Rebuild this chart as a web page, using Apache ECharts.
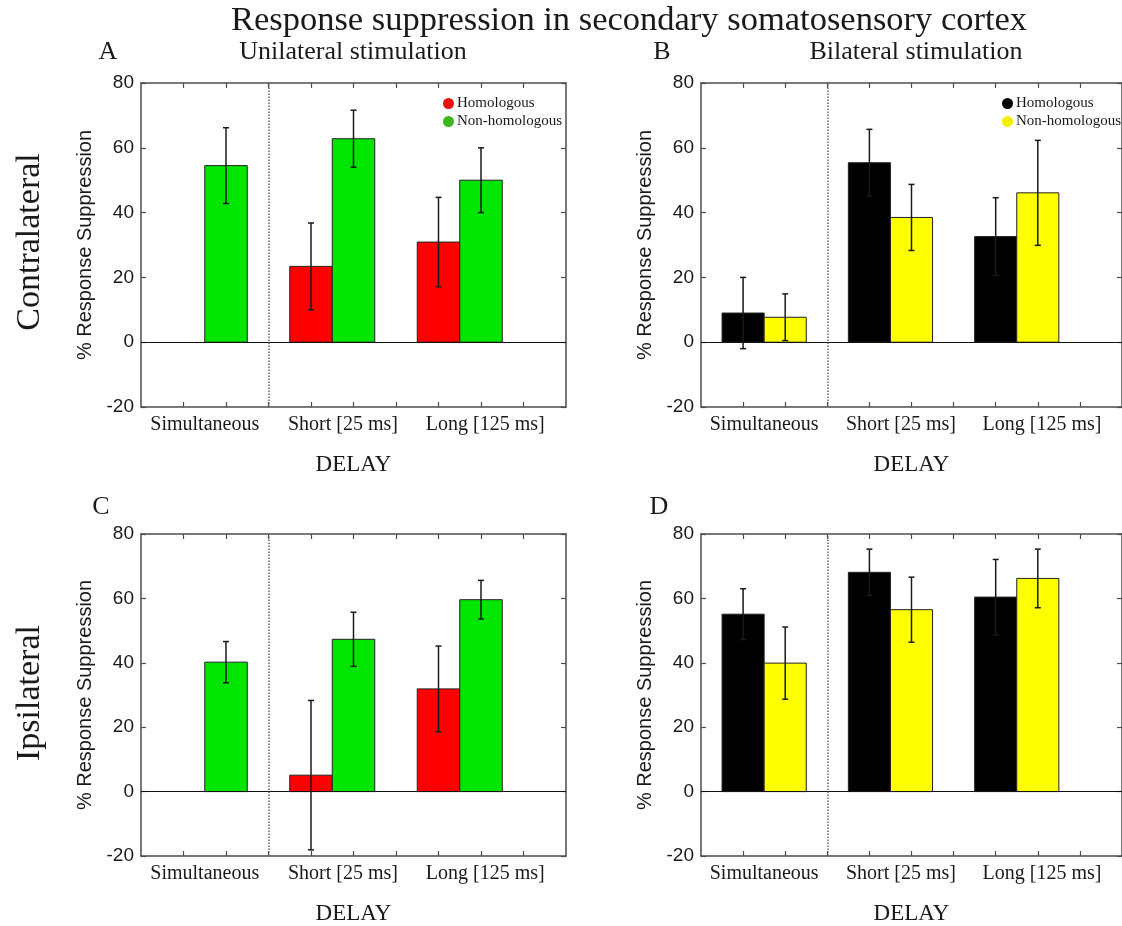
<!DOCTYPE html>
<html>
<head>
<meta charset="utf-8">
<title>Response suppression in secondary somatosensory cortex</title>
<script src="https://cdn.jsdelivr.net/npm/echarts@6/dist/echarts.min.js"></script>
<style>
    html, body { margin: 0; padding: 0; background: #fff; }
    #chart { width: 1122px; height: 926px; }
</style>
</head>
<body>
<div id="chart"></div>
<script>
'use strict';

// categories / ticks
var catLabels = ['Simultaneous', 'Short [25 ms]', 'Long [125 ms]'];
var catLabelPos = [1.5, 4.75, 8.1];
var xTickPos = [1, 2, 3, 4, 5, 6, 7, 8, 9];
var homPos = [1, 4, 7];      // homologous bar centres
var nonPos = [2, 5, 8];      // non-homologous bar centres
var dividerPos = 3;          // dotted line between simultaneous and delayed

// A: contralateral, unilateral
var homA = [null, 23.4, 30.9];
var homErrA = [null, 13.4, 13.8];
var nonA = [54.5, 62.8, 50.0];
var nonErrA = [11.7, 8.8, 10.0];

// B: contralateral, bilateral
var homB = [9.0, 55.4, 32.6];
var homErrB = [11.0, 10.3, 12.0];
var nonB = [7.7, 38.5, 46.1];
var nonErrB = [7.2, 10.2, 16.2];

// C: ipsilateral, unilateral
var homC = [null, 5.1, 31.9];
var homErrC = [null, 23.2, 13.3];
var nonC = [40.2, 47.3, 59.6];
var nonErrC = [6.4, 8.4, 6.0];

// D: ipsilateral, bilateral
var homD = [55.1, 68.1, 60.4];
var homErrD = [7.9, 7.2, 11.7];
var nonD = [39.9, 56.5, 66.2];
var nonErrD = [11.2, 10.1, 9.1];

var SERIF = '"Liberation Serif", "Times New Roman", serif';
var SANS = '"Liberation Sans", Arial, sans-serif';
var FRAME = '#4d4d4d';
var INK = '#1a1a1a';

var panels = [
    {grid: {left: 141, top: 83, width: 425, height: 324}, hom: homA, homErr: homErrA, non: nonA, nonErr: nonErrA, homColor: '#ff0000', nonColor: '#00e600'},
    {grid: {left: 701, top: 83, width: 425, height: 324}, hom: homB, homErr: homErrB, non: nonB, nonErr: nonErrB, homColor: '#000000', nonColor: '#ffff00'},
    {grid: {left: 141, top: 534, width: 425, height: 324}, hom: homC, homErr: homErrC, non: nonC, nonErr: nonErrC, homColor: '#ff0000', nonColor: '#00e600'},
    {grid: {left: 701, top: 534, width: 425, height: 324}, hom: homD, homErr: homErrD, non: nonD, nonErr: nonErrD, homColor: '#000000', nonColor: '#ffff00'}
];

function $extend(a, b) {
    var o = {};
    for (var key in a) o[key] = a[key];
    for (var key2 in b) o[key2] = b[key2];
    return o;
}

/**
 * @method zip positions, values and errors into custom-series data
 */
function toData(pos, vals, errs) {
    var out = [];
    for (var i = 0; i < vals.length; i++) {
        if (vals[i] == null) continue;
        out.push([pos[i], vals[i], errs[i]]);
    }
    return out;
}

/**
 * @method bar + symmetric error bar
 */
function barRenderer(color) {
    return function(params, api) {
        var x = api.value(0), y = api.value(1), e = api.value(2);
        var a = api.coord([x - 0.5, 0]);
        var b = api.coord([x + 0.5, y]);
        var hi = api.coord([x, y + e]);
        var lo = api.coord([x, y - e]);
        var cap = 3;
        var errStyle = {stroke: INK, lineWidth: 1.5};
        return {
            type: 'group',
            children: [
                {type: 'rect', shape: {x: a[0], y: Math.min(a[1], b[1]), width: b[0] - a[0], height: Math.abs(a[1] - b[1])},
                    style: {fill: color, stroke: '#222', lineWidth: 1}},
                {type: 'line', shape: {x1: hi[0], y1: hi[1], x2: lo[0], y2: lo[1]}, style: errStyle},
                {type: 'line', shape: {x1: hi[0] - cap, y1: hi[1], x2: hi[0] + cap, y2: hi[1]}, style: errStyle},
                {type: 'line', shape: {x1: lo[0] - cap, y1: lo[1], x2: lo[0] + cap, y2: lo[1]}, style: errStyle}
            ]
        };
    };
}

function catFormatter(v) {
    for (var i = 0; i < catLabelPos.length; i++) {
        if (Math.abs(catLabelPos[i] - v) < 1e-6) return catLabels[i];
    }
    return '';
}

var grids = [], xAxes = [], yAxes = [], series = [];
var frameLine = {show: true, onZero: false, lineStyle: {color: FRAME, width: 1.5}};
var innerTick = {show: true, inside: true, length: 5, lineStyle: {color: FRAME, width: 1.2}};

panels.forEach(function(p, k) {
    grids.push(p.grid);
    xAxes.push({
        gridIndex: k, type: 'value', min: 0, max: 10, position: 'bottom',
        axisLine: frameLine,
        axisTick: $extend(innerTick, {customValues: xTickPos}),
        axisLabel: {customValues: catLabelPos, formatter: catFormatter, margin: 8,
            fontFamily: SERIF, fontSize: 20, color: INK},
        splitLine: {show: false},
        name: 'DELAY', nameLocation: 'middle', nameGap: 46,
        nameTextStyle: {fontFamily: SERIF, fontSize: 23, color: INK}
    });
    xAxes.push({
        gridIndex: k, type: 'value', min: 0, max: 10, position: 'top',
        axisLine: frameLine,
        axisTick: $extend(innerTick, {customValues: xTickPos}),
        axisLabel: {show: false},
        splitLine: {show: false}
    });
    yAxes.push({
        gridIndex: k, type: 'value', min: -20, max: 80, interval: 20, position: 'left',
        axisLine: frameLine,
        axisTick: innerTick,
        axisLabel: {fontFamily: SANS, fontSize: 19, color: INK, margin: 7},
        splitLine: {show: false},
        name: '% Response Suppression', nameLocation: 'middle', nameGap: 46, nameRotate: 90,
        nameTextStyle: {fontFamily: SANS, fontSize: 20, color: INK}
    });
    yAxes.push({
        gridIndex: k, type: 'value', min: -20, max: 80, interval: 20, position: 'right',
        axisLine: frameLine,
        axisTick: innerTick,
        axisLabel: {show: false},
        splitLine: {show: false}
    });

    series.push({
        type: 'custom', name: 'Homologous',
        xAxisIndex: 2 * k, yAxisIndex: 2 * k,
        itemStyle: {color: p.homColor},
        renderItem: barRenderer(p.homColor),
        data: toData(homPos, p.hom, p.homErr),
        z: 3
    });
    series.push({
        type: 'custom', name: 'Non-homologous',
        xAxisIndex: 2 * k, yAxisIndex: 2 * k,
        itemStyle: {color: p.nonColor},
        renderItem: barRenderer(p.nonColor),
        data: toData(nonPos, p.non, p.nonErr),
        z: 3,
        markLine: {
            silent: true, symbol: 'none', label: {show: false},
            data: [
                {yAxis: 0, lineStyle: {color: '#111', width: 1, type: 'solid'}},
                {xAxis: dividerPos, lineStyle: {color: '#666', width: 1.5, type: 'dotted'}}
            ]
        }
    });
});

function legendFor(left, homColor, nonColor) {
    return {
        orient: 'vertical', left: left, top: 91,
        icon: 'circle', itemWidth: 11, itemHeight: 11, itemGap: 3,
        selectedMode: false,
        textStyle: {fontFamily: SERIF, fontSize: 15, color: INK, padding: [0, 0, 0, -2]},
        data: [
            {name: 'Homologous', itemStyle: {color: homColor}},
            {name: 'Non-homologous', itemStyle: {color: nonColor}}
        ]
    };
}

function label(text, x, y, size, rot) {
    return {
        type: 'text', x: x, y: y, rotation: rot || 0,
        style: {text: text, fontFamily: SERIF, fontSize: size, fill: INK, align: 'center', verticalAlign: 'middle'}
    };
}

var option = {
    animation: false,
    backgroundColor: '#fff',
    grid: grids,
    xAxis: xAxes,
    yAxis: yAxes,
    legend: [
        legendFor(438, '#e8140c', '#3cb81a'),
        legendFor(997, '#000000', '#f5f000')
    ],
    graphic: [
        label('Response suppression in secondary somatosensory cortex', 629, 21, 34.5),
        label('A', 108, 52, 26),
        label('Unilateral stimulation', 353, 52, 26),
        label('B', 662, 52, 26),
        label('Bilateral stimulation', 916, 52, 26),
        label('C', 101, 507, 26),
        label('D', 659, 507, 26),
        label('Contralateral', 30, 242, 34, Math.PI / 2),
        label('Ipsilateral', 30, 693, 34, Math.PI / 2)
    ],
    series: series
};

var myChart = echarts.init(document.getElementById('chart'));
myChart.setOption(option);
</script>
</body>
</html>
